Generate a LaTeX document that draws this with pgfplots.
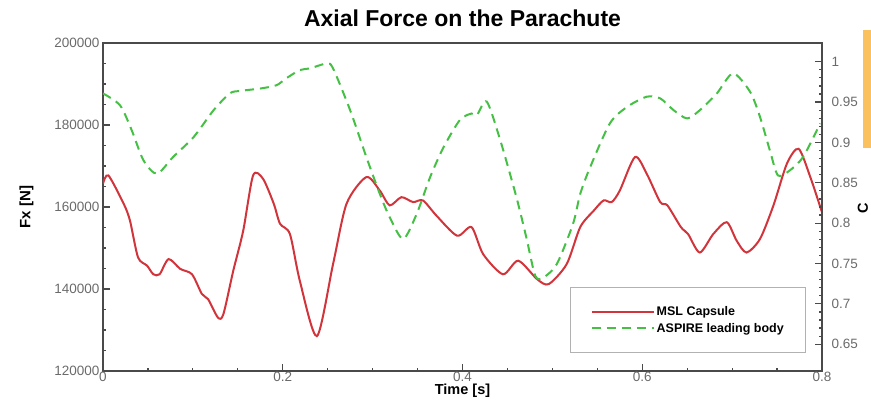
\documentclass[border=0pt]{standalone}
\usepackage{fontspec}
\setmainfont{Liberation Sans}
\usepackage{pgfplots}
\pgfplotsset{compat=1.18}
\definecolor{axgray}{HTML}{4A4A4A}
\definecolor{tickgray}{HTML}{6A6A6A}
\definecolor{msl}{HTML}{D1343B}
\definecolor{asp}{HTML}{45C045}
\definecolor{orng}{HTML}{FBC15E}
\begin{document}
\begin{tikzpicture}[x=1pt,y=1pt]
\begin{axis}[
  at={(103pt,29pt)}, anchor=south west,
  scale only axis, width=719pt, height=328pt,
  xmin=0, xmax=0.8, ymin=120000, ymax=200000,
  scaled y ticks=false,
  xtick={0,0.2,0.4,0.6,0.8}, xticklabels={0,0.2,0.4,0.6,0.8},
  ytick={120000,140000,160000,180000,200000},
  yticklabels={120000,140000,160000,180000,200000},
  minor x tick num=3, minor y tick num=3,
  xtick pos=bottom, ytick pos=left,
  tick align=inside,
  major tick length=7pt, minor tick length=3.5pt,
  every tick/.style={axgray, line width=1.2pt},
  axis line style={axgray, line width=1.8pt},
  tick label style={font=\fontsize{13.5}{15}\selectfont, text=tickgray},
  xticklabel style={yshift=2pt},
  /pgf/number format/assume math mode=true,
  title={Axial Force on the Parachute},
  title style={at={(0.5,1)}, anchor=base, yshift=11pt, font=\bfseries\fontsize{23}{25}\selectfont},
  xlabel={Time [s]},
  xlabel style={font=\bfseries\fontsize{14.5}{16}\selectfont, yshift=4.5pt},
  ylabel={Fx [N]},
  ylabel style={font=\bfseries\fontsize{15}{17}\selectfont, yshift=14pt},
  legend style={at={(0.978,0.055)}, anchor=south east, draw=gray!60, line width=0.8pt,
    inner xsep=20pt, inner ysep=17pt, row sep=2pt,
    font=\bfseries\fontsize{12.5}{13}\selectfont, fill=white},
  legend cell align=left,
  legend image code/.code={\draw[#1] (0pt,0pt) -- (62pt,0pt);},
]
\addplot[msl, line width=2pt, smooth, tension=0.45] coordinates {
(0,165700) (0.006,167700) (0.023,160800) (0.030,156700) (0.039,147700)
(0.049,145700) (0.056,143600) (0.063,143600) (0.073,147300) (0.086,144900)
(0.099,143600) (0.110,138800) (0.117,137500) (0.128,133000) (0.134,133900)
(0.145,144500) (0.156,154200) (0.167,167700) (0.178,166900) (0.190,160800)
(0.197,155900) (0.208,153400) (0.219,142000) (0.238,128500) (0.256,146100)
(0.271,160800) (0.293,167300) (0.308,164000) (0.319,160400) (0.332,162400)
(0.345,161200) (0.356,161600) (0.371,157900) (0.394,153000) (0.410,155100)
(0.423,148500) (0.445,143600) (0.462,146900) (0.483,142400) (0.496,141200)
(0.516,146100) (0.531,155100) (0.546,159100) (0.557,161600) (0.566,161200)
(0.575,164000) (0.592,172200) (0.605,168100) (0.620,161200) (0.628,160400)
(0.643,155100) (0.651,153400) (0.664,148900) (0.679,153400) (0.694,156300)
(0.705,151800) (0.716,148900) (0.731,152200) (0.746,160400) (0.761,170600)
(0.774,174200) (0.787,167300) (0.800,158700)
};
\addlegendentry{MSL Capsule}
\addplot[asp, line width=2pt, dash pattern=on 9pt off 6pt, smooth, tension=0.45] coordinates {
(0,187700) (0.019,184800) (0.032,178700) (0.045,171400) (0.060,168100)
(0.078,172200) (0.101,177100) (0.123,183600) (0.141,187700) (0.152,188300)
(0.175,188900) (0.193,189700) (0.204,191400) (0.219,193400) (0.230,193800)
(0.249,195000) (0.256,193800) (0.275,183600) (0.293,172200) (0.308,163200)
(0.319,157500) (0.334,152200) (0.349,158300) (0.364,167300) (0.379,174600)
(0.397,181200) (0.410,182800) (0.416,182400) (0.427,185700) (0.442,176300)
(0.460,162400) (0.471,152600) (0.481,143200) (0.490,142800) (0.505,146100)
(0.523,155900) (0.531,163200) (0.542,169700) (0.564,180400) (0.583,184400)
(0.605,186900) (0.620,186500) (0.635,183600) (0.650,181600) (0.664,183600)
(0.683,187700) (0.701,192600) (0.720,188100) (0.731,182000) (0.742,173800)
(0.751,167700) (0.764,168900) (0.779,172200) (0.798,180400)
};
\addlegendentry{ASPIRE leading body}
\draw[axgray, line width=1.8pt] (rel axis cs:0,1) -- (rel axis cs:1,1);
\end{axis}
\begin{axis}[
  at={(103pt,29pt)}, anchor=south west,
  scale only axis, width=719pt, height=328pt,
  xmin=0, xmax=0.8, ymin=0.6168, ymax=1.0232,
  axis x line=none, axis y line*=right,
  ytick={0.65,0.7,0.75,0.8,0.85,0.9,0.95,1},
  yticklabels={0.65,0.7,0.75,0.8,0.85,0.9,0.95,1},
  minor y tick num=4,
  tick align=inside,
  major tick length=7pt, minor tick length=3.5pt,
  every tick/.style={axgray, line width=1.2pt},
  axis line style={axgray, line width=1.8pt},
  tick label style={font=\fontsize{13.5}{15}\selectfont, text=tickgray},
  yticklabel style={xshift=6pt},
  /pgf/number format/assume math mode=true,
]
\end{axis}
\node[rotate=90, font=\bfseries\fontsize{14.5}{16}\selectfont, inner sep=0pt] at (863pt,192pt) {C};
\fill[orng] (863pt,252pt) rectangle (875pt,370pt);
\pgfresetboundingbox
\useasboundingbox (0,0) rectangle (871pt,400pt);
\end{tikzpicture}
\end{document}
